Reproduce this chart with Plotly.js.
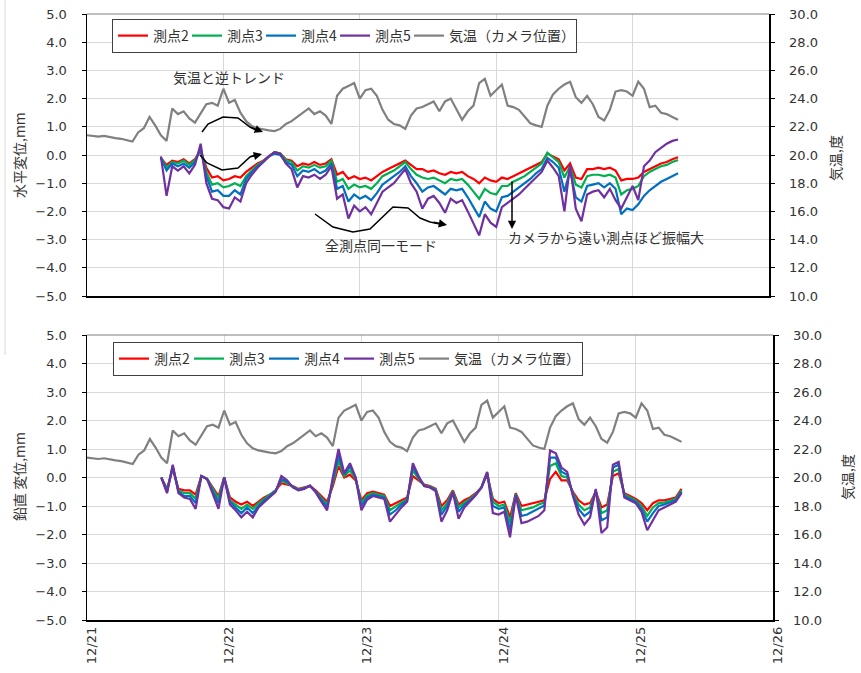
<!DOCTYPE html>
<html><head><meta charset="utf-8">
<script src="https://cdn.plot.ly/plotly-3.0.1.min.js"></script>
<style>html,body{margin:0;padding:0;background:#fff}#chart{width:861px;height:673px}</style>
</head><body><div id="chart"></div>
<script>
// ---------------- DATA ----------------
const baseDate = '2023-12-21';
const tempStartHour = 0;     // hours after 12/21 00:00
const dispStartHour = 13;

const seriesNames = ['測点2', '測点3', '測点4', '測点5'];
const tempName = '気温（カメラ位置）';

const tickDates = ['2023-12-21', '2023-12-22', '2023-12-23', '2023-12-24', '2023-12-25', '2023-12-26'];
const tickLabels = ['12/21', '12/22', '12/23', '12/24', '12/25', '12/26'];

// Air temperature (deg C), hourly from 12/21 00:00
const tempC = [21.4,21.35,21.3,21.35,21.25,21.2,21.15,21.05,20.95,21.6,21.9,22.7,22.1,21.4,21.0,23.3,22.9,23.1,22.6,22.3,
 23.0,23.6,23.7,23.5,24.7,23.7,23.9,23.0,22.4,22.05,21.9,21.8,21.75,21.7,21.85,22.2,22.4,22.7,23.0,23.3,
 22.9,23.1,22.8,22.2,24.2,24.7,24.9,25.1,24.0,24.6,24.7,24.2,23.2,22.5,22.2,22.1,21.85,22.8,23.3,23.4,
 23.6,23.8,23.1,23.8,24.0,23.2,22.5,23.1,23.5,25.1,25.4,24.2,24.6,25.0,23.5,23.4,23.2,22.7,22.25,22.1,
 22.0,23.5,24.3,24.7,25.0,25.2,24.1,23.7,24.2,23.6,22.7,22.45,23.2,24.5,24.6,24.5,24.2,25.2,24.7,23.4,
 23.5,23.0,22.9,22.7,22.5];

// Horizontal displacement (mm), hourly from 12/21 13:00
const horiz2 = [-0.10,-0.35,-0.20,-0.25,-0.15,-0.30,-0.15,0.15,-0.45,-0.80,-0.75,-0.90,-0.85,-0.75,-0.80,-0.60,-0.45,-0.30,-0.20,-0.05,
 0.10,0.05,-0.15,-0.20,-0.40,-0.30,-0.35,-0.25,-0.35,-0.30,-0.15,-0.70,-0.60,-0.85,-0.75,-0.85,-0.80,-0.90,-0.75,-0.60,
 -0.50,-0.40,-0.30,-0.20,-0.35,-0.50,-0.50,-0.60,-0.55,-0.65,-0.70,-0.60,-0.65,-0.60,-0.75,-0.85,-1.00,-0.80,-0.90,-0.95,
 -0.80,-0.85,-0.75,-0.65,-0.55,-0.45,-0.35,-0.25,0.05,-0.05,-0.15,-0.55,-0.30,-0.80,-0.85,-0.50,-0.50,-0.45,-0.50,-0.45,
 -0.55,-0.90,-0.85,-0.85,-0.80,-0.60,-0.50,-0.40,-0.30,-0.25,-0.15,-0.08];
const horiz3 = [-0.08,-0.45,-0.25,-0.30,-0.20,-0.35,-0.18,0.20,-0.60,-1.05,-1.00,-1.15,-1.10,-1.00,-1.10,-0.75,-0.55,-0.35,-0.22,-0.05,
 0.10,0.05,-0.18,-0.25,-0.55,-0.40,-0.45,-0.35,-0.45,-0.40,-0.20,-0.95,-0.85,-1.20,-1.05,-1.15,-1.10,-1.20,-1.00,-0.75,
 -0.65,-0.55,-0.40,-0.25,-0.50,-0.70,-0.80,-0.85,-0.80,-0.90,-1.00,-0.85,-0.90,-0.85,-1.05,-1.30,-1.55,-1.20,-1.35,-1.40,
 -1.10,-1.10,-0.95,-0.85,-0.75,-0.60,-0.45,-0.30,0.08,-0.10,-0.25,-0.80,-0.40,-1.05,-1.15,-0.75,-0.70,-0.70,-0.75,-0.70,
 -0.80,-1.40,-1.25,-1.20,-1.10,-0.75,-0.60,-0.50,-0.40,-0.35,-0.25,-0.18];
const horiz4 = [-0.10,-0.55,-0.30,-0.40,-0.30,-0.45,-0.25,0.25,-0.75,-1.30,-1.25,-1.45,-1.45,-1.25,-1.40,-0.85,-0.60,-0.40,-0.25,-0.05,
 0.05,0.00,-0.25,-0.35,-0.75,-0.55,-0.60,-0.50,-0.65,-0.55,-0.30,-1.20,-1.10,-1.65,-1.40,-1.55,-1.45,-1.60,-1.35,-1.05,
 -0.90,-0.75,-0.60,-0.40,-0.75,-1.00,-1.30,-1.15,-1.10,-1.25,-1.40,-1.20,-1.25,-1.20,-1.50,-1.85,-2.20,-1.65,-1.90,-2.00,
 -1.50,-1.45,-1.30,-1.15,-1.00,-0.85,-0.65,-0.50,-0.10,-0.25,-0.45,-1.30,-0.55,-1.50,-1.65,-1.10,-1.05,-1.00,-1.15,-1.00,
 -1.20,-2.10,-1.90,-1.95,-1.75,-1.45,-1.25,-1.10,-0.95,-0.85,-0.75,-0.65];
const horiz5 = [-0.05,-1.45,-0.40,-0.55,-0.40,-0.65,-0.35,0.40,-1.00,-1.55,-1.60,-1.85,-1.90,-1.50,-1.65,-1.00,-0.70,-0.45,-0.25,-0.05,
 0.10,0.05,-0.30,-0.50,-1.15,-0.75,-0.80,-0.70,-0.85,-0.70,-0.40,-1.55,-1.40,-2.25,-1.80,-2.00,-1.85,-2.10,-1.70,-1.30,
 -1.15,-1.00,-0.75,-0.50,-1.00,-1.30,-1.90,-1.55,-1.45,-1.70,-2.05,-1.55,-1.70,-1.60,-2.00,-2.40,-2.85,-2.10,-2.40,-2.55,
 -1.85,-1.70,-1.55,-1.40,-1.20,-1.00,-0.80,-0.60,-0.20,-0.45,-0.75,-2.00,-0.35,-1.90,-2.35,-1.40,-1.30,-1.25,-1.50,-1.20,
 -1.60,-1.90,-1.50,-1.10,-1.60,-0.40,-0.20,0.10,0.25,0.40,0.50,0.55];

// Vertical displacement (mm), hourly from 12/21 13:00
const vert2 = [0.00,-0.40,0.30,-0.40,-0.45,-0.45,-0.60,0.05,-0.05,-0.35,-0.65,0.00,-0.70,-0.85,-0.95,-0.85,-1.00,-0.85,-0.70,-0.60,
 -0.45,-0.20,-0.25,-0.30,-0.40,-0.35,-0.30,-0.45,-0.65,-0.85,-0.30,0.40,0.00,0.10,-0.10,-0.80,-0.55,-0.50,-0.55,-0.60,
 -1.00,-0.90,-0.80,-0.70,0.05,-0.10,-0.25,-0.30,-0.40,-1.00,-0.80,-0.45,-0.95,-0.80,-0.70,-0.55,-0.35,0.10,-0.75,-0.90,
 -0.85,-1.40,-0.55,-1.00,-0.95,-0.90,-0.85,-0.80,-0.05,0.20,-0.10,-0.10,-0.50,-0.80,-0.95,-0.90,-0.50,-1.05,-0.95,0.05,
 0.15,-0.55,-0.65,-0.75,-0.90,-1.15,-0.90,-0.80,-0.80,-0.75,-0.70,-0.40];
const vert3 = [0.00,-0.45,0.35,-0.45,-0.55,-0.55,-0.75,0.05,-0.05,-0.40,-0.75,0.00,-0.80,-0.95,-1.10,-0.95,-1.10,-0.90,-0.75,-0.60,
 -0.45,-0.10,-0.20,-0.32,-0.42,-0.36,-0.30,-0.48,-0.72,-0.95,-0.20,0.60,0.05,0.25,-0.05,-0.90,-0.62,-0.55,-0.60,-0.65,
 -1.15,-1.00,-0.88,-0.75,0.25,-0.05,-0.28,-0.32,-0.43,-1.15,-0.90,-0.48,-1.05,-0.88,-0.75,-0.58,-0.35,0.15,-0.85,-1.00,
 -0.95,-1.60,-0.58,-1.15,-1.10,-1.05,-0.95,-0.88,0.40,0.50,0.05,0.00,-0.55,-0.95,-1.15,-1.05,-0.48,-1.25,-1.15,0.20,
 0.30,-0.60,-0.70,-0.80,-1.00,-1.35,-1.05,-0.90,-0.88,-0.82,-0.75,-0.45];
const vert4 = [0.00,-0.50,0.40,-0.50,-0.65,-0.65,-0.90,0.05,-0.05,-0.45,-0.90,0.00,-0.85,-1.05,-1.25,-1.05,-1.25,-1.00,-0.80,-0.65,
 -0.48,-0.05,-0.15,-0.33,-0.44,-0.38,-0.30,-0.50,-0.78,-1.05,-0.10,0.80,0.10,0.40,0.00,-1.00,-0.70,-0.60,-0.65,-0.70,
 -1.30,-1.15,-0.95,-0.80,0.40,0.00,-0.30,-0.34,-0.45,-1.30,-1.00,-0.50,-1.20,-0.95,-0.80,-0.60,-0.35,0.18,-1.00,-1.10,
 -1.05,-1.85,-0.60,-1.35,-1.30,-1.20,-1.10,-0.98,0.70,0.70,0.20,0.10,-0.60,-1.10,-1.35,-1.20,-0.45,-1.50,-1.40,0.35,
 0.45,-0.65,-0.75,-0.85,-1.10,-1.55,-1.25,-1.00,-0.95,-0.88,-0.80,-0.50];
const vert5 = [0.00,-0.55,0.45,-0.55,-0.70,-0.75,-1.10,0.05,-0.05,-0.55,-1.10,0.00,-0.95,-1.15,-1.40,-1.20,-1.40,-1.05,-0.85,-0.68,
 -0.50,0.05,-0.10,-0.35,-0.45,-0.40,-0.28,-0.52,-0.85,-1.15,0.00,1.00,0.15,0.50,0.00,-1.15,-0.78,-0.65,-0.70,-0.75,
 -1.55,-1.30,-1.05,-0.85,0.50,0.05,-0.30,-0.35,-0.48,-1.55,-1.15,-0.52,-1.45,-1.05,-0.85,-0.62,-0.35,0.20,-1.25,-1.30,
 -1.20,-2.10,-0.62,-1.60,-1.55,-1.45,-1.35,-1.15,0.95,0.85,0.35,0.20,-0.65,-1.30,-1.65,-1.40,-0.40,-1.95,-1.75,0.45,
 0.55,-0.70,-0.80,-0.90,-1.20,-1.85,-1.50,-1.15,-1.05,-0.95,-0.85,-0.55];

const colors = ['#FF0000', '#00B050', '#0070C0', '#7030A0'];
const tempColor = '#808080';

// ---------------- BUILD ----------------
const W = 861, H = 673;
const px = x => x / W;
const py = y => 1 - y / H;
const t0 = Date.UTC(2023, 11, 21);
function hourStamp(h) {
  return new Date(t0 + h * 3600000).toISOString().slice(0, 16).replace('T', ' ');
}
const tempX = tempC.map((_, i) => hourStamp(tempStartHour + i));
const dispX = horiz2.map((_, i) => hourStamp(dispStartHour + i));

const horiz = [horiz2, horiz3, horiz4, horiz5];
const vert = [vert2, vert3, vert4, vert5];
const LW = 2.2;

const traces = [];
horiz.forEach((arr, k) => traces.push({
  x: dispX, y: arr, type: 'scatter', mode: 'lines', name: seriesNames[k],
  line: {color: colors[k], width: LW}, xaxis: 'x', yaxis: 'y', legend: 'legend'
}));
traces.push({x: tempX, y: tempC, type: 'scatter', mode: 'lines', name: tempName, legendwidth: 122,
  line: {color: tempColor, width: LW}, xaxis: 'x', yaxis: 'y2', legend: 'legend'});
vert.forEach((arr, k) => traces.push({
  x: dispX, y: arr, type: 'scatter', mode: 'lines', name: seriesNames[k],
  line: {color: colors[k], width: LW}, xaxis: 'x2', yaxis: 'y3', legend: 'legend2'
}));
traces.push({x: tempX, y: tempC, type: 'scatter', mode: 'lines', name: tempName, legendwidth: 123,
  line: {color: tempColor, width: LW}, xaxis: 'x2', yaxis: 'y4', legend: 'legend2'});

const tickFont = {family: 'DejaVu Sans, Verdana, sans-serif', size: 13, color: '#333333'};
const jpFont = {family: 'Noto Sans CJK JP, sans-serif', size: 14, color: '#333333'};
const grid = '#d9d9d9';

function xAxis(domain, anchor, labels) {
  return {
    domain: domain, anchor: anchor, type: 'date',
    range: [tickDates[0], tickDates[tickDates.length - 1]],
    tickmode: 'array', tickvals: tickDates, ticktext: tickLabels,
    showticklabels: labels, tickangle: -90, tickfont: tickFont, ticklabelshift: 5,
    showgrid: true, gridcolor: grid, gridwidth: 1,
    showline: true, linecolor: '#000', linewidth: 1.5, ticks: '', zeroline: false
  };
}
function leftAxis(domain, anchor) {
  return {
    domain: domain, anchor: anchor, range: [-5, 5], dtick: 1, tick0: 0, tickformat: '.1f',
    tickfont: tickFont, showgrid: true, gridcolor: grid, gridwidth: 1, zeroline: false,
    showline: true, linecolor: '#000', linewidth: 1.5, ticks: 'outside', ticklen: 4,
    tickcolor: '#000', ticklabelstandoff: 12
  };
}
function rightAxis(over, anchor) {
  return {
    overlaying: over, anchor: anchor, side: 'right', range: [10, 30], dtick: 2, tick0: 10,
    tickformat: '.1f', tickfont: tickFont, showgrid: false, zeroline: false,
    showline: true, linecolor: '#000', linewidth: 1.5, ticks: 'outside', ticklen: 4,
    tickcolor: '#000', ticklabelstandoff: 12
  };
}

const topDomY = [py(296), py(14)];
const botDomY = [py(620), py(335)];

function pathPx(points) {
  return points.map((p, i) => (i ? 'L' : 'M') + px(p[0]).toFixed(5) + ',' + py(p[1]).toFixed(5)).join(' ');
}
const curveA = [[202,132],[208,124],[223,117],[238,118],[250,127],[256,130]];
const curveB = [[200,155],[207,163],[222,170],[238,168],[250,157],[255,155]];
const curveC = [[315,214],[333,227],[353,232],[370,229],[393,207],[408,208],[420,218],[430,222],[440,224]];
const shapes = [
  {type: 'line', xref: 'x domain', yref: 'y domain', x0: 0, x1: 1, y0: 1, y1: 1, line: {color: '#7f7f7f', width: 1}},
  {type: 'line', xref: 'x2 domain', yref: 'y3 domain', x0: 0, x1: 1, y0: 1, y1: 1, line: {color: '#7f7f7f', width: 1}},
  {type: 'line', xref: 'paper', yref: 'paper', x0: px(5), x1: px(5), y0: py(0), y1: py(355), line: {color: '#d9d9d9', width: 1}},
  {type: 'path', xref: 'paper', yref: 'paper', path: pathPx(curveA), line: {color: '#000', width: 1.5}},
  {type: 'path', xref: 'paper', yref: 'paper', path: pathPx(curveB), line: {color: '#000', width: 1.5}},
  {type: 'path', xref: 'paper', yref: 'paper', path: pathPx(curveC), line: {color: '#000', width: 1.5}}
];

function arrowHead(hx, hy, tx, ty) {
  return {xref: 'paper', yref: 'paper', x: px(hx), y: py(hy), ax: tx - hx, ay: ty - hy,
    text: '', showarrow: true, arrowhead: 2, arrowsize: 1.1, arrowwidth: 1.5, arrowcolor: '#000', standoff: 0};
}
function label(text, x, y, extra) {
  return Object.assign({xref: 'paper', yref: 'paper', x: px(x), y: py(y), text: text, showarrow: false,
    font: jpFont, xanchor: 'center', yanchor: 'middle'}, extra || {});
}

const annotations = [
  label('気温と逆トレンド', 229, 77),
  label('全測点同一モード', 381, 245),
  label('カメラから遠い測点ほど振幅大', 606, 237),
  arrowHead(263, 132, 250, 127),
  arrowHead(262, 154, 250, 157),
  arrowHead(447, 225, 432, 222),
  arrowHead(512, 229, 512, 180),
  label('水平変位,mm', 19, 155, {textangle: -90}),
  label('気温,度', 835, 158, {textangle: -90}),
  label('鉛直 変位,mm', 19, 477, {textangle: -90}),
  label('気温,度', 847, 477, {textangle: -90})
];

const legendBase = {
  orientation: 'h', xanchor: 'left', yanchor: 'top', bgcolor: '#fff',
  bordercolor: '#404040', borderwidth: 1, font: jpFont, itemwidth: 30, tracegroupgap: 0
};

const layout = {
  width: W, height: H, margin: {l: 0, r: 0, t: 0, b: 0},
  paper_bgcolor: '#fff', plot_bgcolor: '#fff', showlegend: true,
  xaxis: xAxis([px(87), px(769)], 'y', false),
  yaxis: leftAxis(topDomY, 'x'),
  yaxis2: rightAxis('y', 'x'),
  xaxis2: xAxis([px(87), px(773)], 'y3', true),
  yaxis3: leftAxis(botDomY, 'x2'),
  yaxis4: rightAxis('y3', 'x2'),
  legend: Object.assign({}, legendBase, {x: px(112), y: py(19), entrywidth: 29}),
  legend2: Object.assign({}, legendBase, {x: px(113), y: py(342), entrywidth: 30}),
  shapes: shapes,
  annotations: annotations
};

Plotly.newPlot('chart', traces, layout, {staticPlot: true, displayModeBar: false});
</script></body></html>
